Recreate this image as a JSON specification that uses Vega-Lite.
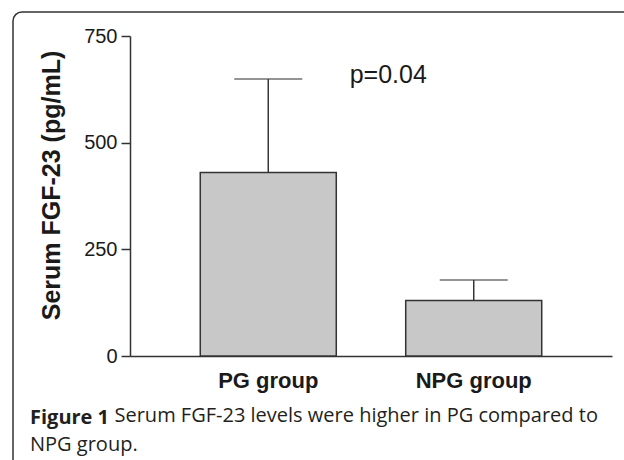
{
  "$schema": "https://vega.github.io/schema/vega-lite/v6.json",
  "autosize": {"type": "none"},
  "width": 630,
  "height": 465,
  "padding": {"left": 13, "top": 12, "right": 0, "bottom": 0},
  "background": "white",
  "config": {
    "view": {"stroke": "#333333", "strokeWidth": 1.5, "cornerRadius": 9}
  },
  "title": {
    "text": "Figure 1",
    "subtitle": "NPG group.",
    "orient": "bottom",
    "anchor": "start",
    "frame": "group",
    "offset": -69,
    "dx": 17,
    "font": "Open Sans",
    "fontSize": 20,
    "fontWeight": "bold",
    "color": "#231f20",
    "subtitleFont": "Open Sans",
    "subtitleFontSize": 20,
    "subtitleColor": "#231f20",
    "subtitlePadding": 7
  },
  "datasets": {
    "bars": [
      {"group": "PG group", "mean": 430, "upper": 649},
      {"group": "NPG group", "mean": 130, "upper": 178}
    ],
    "note": [
      {"group": "PG group", "label": "p=0.04", "pos": 640}
    ]
  },
  "encoding": {
    "x": {
      "field": "group",
      "type": "nominal",
      "sort": ["PG group", "NPG group"],
      "scale": {"type": "band", "domain": ["PG group", "NPG group"], "range": [117, 599], "paddingInner": 0.338, "paddingOuter": 0.342},
      "axis": {
        "orient": "bottom",
        "offset": -121,
        "domainColor": "#333333",
        "domainWidth": 1.5,
        "ticks": false,
        "tickSize": 0,
        "labelAngle": 0,
        "labelFont": "Liberation Sans",
        "labelFontSize": 22,
        "labelFontWeight": "bold",
        "labelColor": "#1a1a1a",
        "labelPadding": 14,
        "title": "Serum FGF-23 levels were higher in PG compared to",
        "titleFont": "Open Sans",
        "titleFontSize": 20,
        "titleFontWeight": "normal",
        "titleColor": "#231f20",
        "titleX": 101,
        "titleY": 65,
        "titleAlign": "left",
        "titleBaseline": "alphabetic"
      }
    }
  },
  "layer": [
    {
      "data": {"name": "bars"},
      "mark": {"type": "bar", "fill": "#c8c8c8", "stroke": "#333333", "strokeWidth": 1.5},
      "encoding": {
        "y": {
          "field": "mean",
          "type": "quantitative",
          "scale": {"domain": [0, 750], "range": [344, 24], "nice": false, "zero": true},
          "axis": {
            "orient": "left",
            "offset": -117,
            "values": [0, 250, 500, 750],
            "grid": false,
            "domainColor": "#333333",
            "domainWidth": 1.5,
            "tickColor": "#333333",
            "tickWidth": 1.5,
            "tickSize": 9,
            "labelFont": "Liberation Sans",
            "labelFontSize": 20,
            "labelColor": "#1a1a1a",
            "labelPadding": 4,
            "title": "Serum FGF-23 (pg/mL)",
            "titleFont": "Liberation Sans",
            "titleFontSize": 25,
            "titleFontWeight": "bold",
            "titleColor": "#1a1a1a",
            "titleAngle": 270,
            "titleX": -79,
            "titleY": 173,
            "titleAlign": "center",
            "titleBaseline": "middle"
          }
        }
      }
    },
    {
      "data": {"name": "bars"},
      "mark": {"type": "rule", "stroke": "#333333", "strokeWidth": 1.5},
      "encoding": {
        "y": {"field": "mean", "type": "quantitative"},
        "y2": {"field": "upper"}
      }
    },
    {
      "data": {"name": "bars"},
      "mark": {"type": "tick", "color": "#333333", "size": 68, "thickness": 1.5, "orient": "horizontal"},
      "encoding": {
        "y": {"field": "upper", "type": "quantitative"}
      }
    },
    {
      "data": {"name": "note"},
      "mark": {"type": "text", "font": "Liberation Sans", "fontSize": 25, "color": "#1a1a1a", "align": "center", "baseline": "alphabetic", "dx": 120},
      "encoding": {
        "y": {"field": "pos", "type": "quantitative"},
        "text": {"field": "label"}
      }
    }
  ]
}
